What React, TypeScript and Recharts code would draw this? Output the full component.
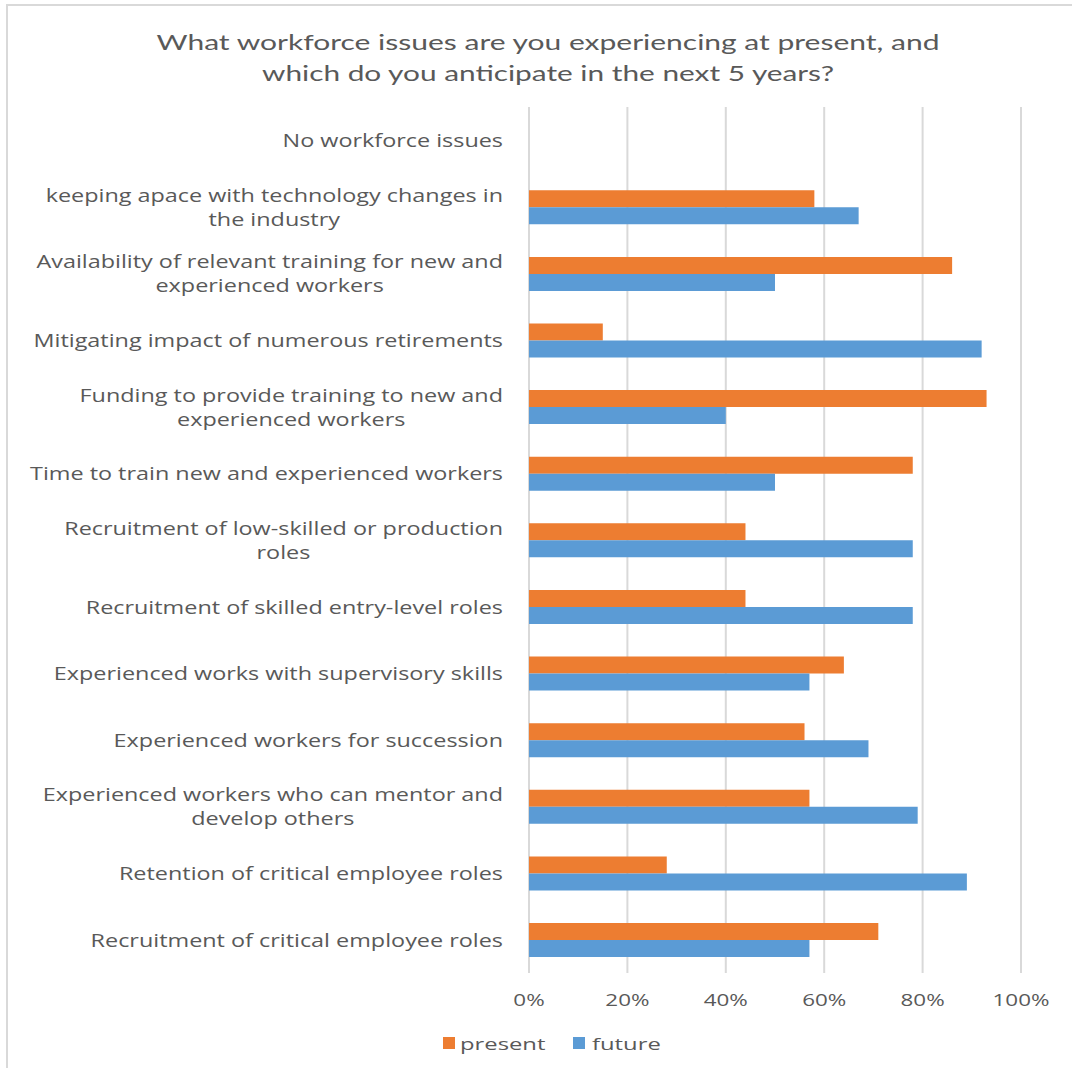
import React from 'react';
import { BarChart, Bar, XAxis, YAxis, CartesianGrid, Legend } from 'recharts';

const titleLines = [
  'What workforce issues are you experiencing at present, and',
  'which do you anticipate in the next 5 years?',
];
const categories = [
  'No workforce issues',
  'keeping apace with technology changes in\nthe industry',
  'Availability of relevant training for new and\nexperienced workers',
  'Mitigating impact of numerous retirements',
  'Funding to provide training to new and\nexperienced workers',
  'Time to train new and experienced workers',
  'Recruitment of low-skilled or production\nroles',
  'Recruitment of skilled entry-level roles',
  'Experienced works with supervisory skills',
  'Experienced workers for succession',
  'Experienced workers who can mentor and\ndevelop others',
  'Retention of critical employee roles',
  'Recruitment of critical employee roles',
];
const present = [0, 58, 86, 15, 93, 78, 44, 44, 64, 56, 57, 28, 71];
const future = [0, 67, 50, 92, 40, 50, 78, 78, 57, 69, 79, 89, 57];
const xTicks = [0, 20, 40, 60, 80, 100];
const seriesNames = ['present', 'future'];
const seriesColors = ['#ED7D31', '#5B9BD5'];

const data = categories.map((name, i) => ({ name, present: present[i], future: future[i] }));

const TEXT = '#595959';
const LABEL_FONT = 'Open Sans';
const LABEL_SIZE = 18;
const LABEL_SX = 1.3;
const LINE_H = 24;

let ctx: CanvasRenderingContext2D | null = null;
function measure(text: string, font: string): number {
  if (!ctx) ctx = document.createElement('canvas').getContext('2d');
  if (!ctx) return text.length * 9;
  ctx.font = font;
  return ctx.measureText(text).width;
}

const CatTick = (props: any) => {
  const { x, y, payload } = props;
  const lines: string[] = String(payload.value).split('\n');
  const font = `${LABEL_SIZE}px "${LABEL_FONT}"`;
  const widths = lines.map((l) => measure(l, font));
  const blockW = Math.max(...widths);
  const n = lines.length;
  return (
    <g transform={`translate(${x},${y}) scale(${LABEL_SX},1)`}>
      {lines.map((ln, i) => (
        <text
          key={i}
          x={-(blockW - widths[i]) / 2}
          y={(i - (n - 1) / 2) * LINE_H}
          textAnchor="end"
          dominantBaseline="central"
          fontFamily={LABEL_FONT}
          fontSize={LABEL_SIZE}
          fill={TEXT}
        >
          {ln}
        </text>
      ))}
    </g>
  );
};

const XTick = (props: any) => {
  const { x, y, payload } = props;
  return (
    <g transform={`translate(${x},${y}) scale(1.4,1)`}>
      <text x={0} y={0} textAnchor="middle" dominantBaseline="central" fontFamily={LABEL_FONT} fontSize={16} fill={TEXT}>
        {`${payload.value}%`}
      </text>
    </g>
  );
};

const renderLegend = () => {
  const items = [
    { sx: 443, tx: 460 },
    { sx: 573, tx: 592 },
  ];
  return (
    <svg width={1072} height={30}>
      {items.map((it, i) => (
        <g key={i}>
          <rect x={it.sx} y={9} width={12} height={12} fill={seriesColors[i]} />
          <g transform={`translate(${it.tx},15) scale(1.4,1)`}>
            <text x={0} y={0} dominantBaseline="central" fontFamily={LABEL_FONT} fontSize={17} fill={TEXT}>
              {seriesNames[i]}
            </text>
          </g>
        </g>
      ))}
    </svg>
  );
};

export default function App() {
  return (
    <div style={{ position: 'absolute', left: 0, top: 0, width: 1072, height: 1068, background: '#fff', overflow: 'hidden' }}>
      <div
        style={{
          position: 'absolute',
          left: 6,
          top: 4,
          width: 1080,
          height: 1080,
          borderLeft: '2px solid #d9d9d9',
          borderTop: '2px solid #d9d9d9',
        }}
      />
      <svg style={{ position: 'absolute', left: 0, top: 0 }} width={1072} height={100}>
        <text x={548} y={41} textAnchor="middle" dominantBaseline="central" fontFamily="Lato" fontSize={21} fill={TEXT} textLength={783} lengthAdjust="spacingAndGlyphs">
          {titleLines[0]}
        </text>
        <text x={548} y={72} textAnchor="middle" dominantBaseline="central" fontFamily="Lato" fontSize={21} fill={TEXT} textLength={572} lengthAdjust="spacingAndGlyphs">
          {titleLines[1]}
        </text>
      </svg>
      <div style={{ position: 'absolute', left: 0, top: 0 }}>
        <BarChart
          width={1072}
          height={1068}
          data={data}
          layout="vertical"
          margin={{ top: 107, right: 51, bottom: 0, left: 0 }}
          barCategoryGap="25%"
          barGap={0}
        >
          <CartesianGrid horizontal={false} stroke="#d9d9d9" strokeWidth={2} />
          <XAxis
            type="number"
            domain={[0, 100]}
            ticks={xTicks}
            height={95}
            tickLine={false}
            axisLine={false}
            tickSize={0}
            tickMargin={27}
            tick={<XTick />}
            interval={0}
          />
          <YAxis
            type="category"
            dataKey="name"
            width={529}
            tickLine={false}
            axisLine={false}
            tickSize={0}
            tickMargin={26}
            tick={<CatTick />}
            interval={0}
          />
          <Legend
            verticalAlign="middle"
            align="center"
            content={renderLegend}
            wrapperStyle={{ position: 'absolute', top: 1028, left: 0, width: 1072, height: 30 }}
          />
          <Bar dataKey="present" name={seriesNames[0]} fill={seriesColors[0]} isAnimationActive={false} />
          <Bar dataKey="future" name={seriesNames[1]} fill={seriesColors[1]} isAnimationActive={false} />
        </BarChart>
      </div>
    </div>
  );
}
